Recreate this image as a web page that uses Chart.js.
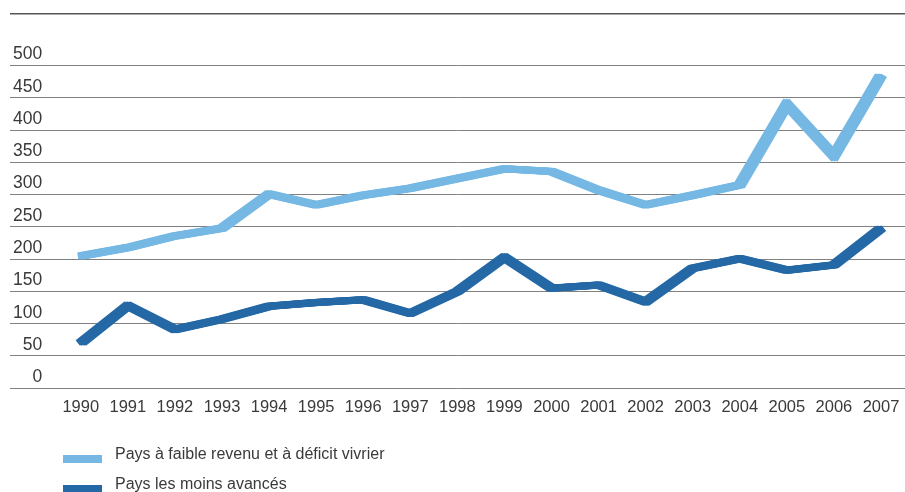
<!DOCTYPE html>
<html>
<head>
<meta charset="utf-8">
<script src="https://cdn.jsdelivr.net/npm/chart.js@4.4.1/dist/chart.umd.min.js"></script>
<style>
  html, body { margin: 0; padding: 0; background: #fff; }
  #wrap { width: 905px; height: 492px; }
</style>
</head>
<body>
<div id="wrap"><canvas id="chart"></canvas></div>
<script>
const years = [1990, 1991, 1992, 1993, 1994, 1995, 1996, 1997, 1998, 1999,
  2000, 2001, 2002, 2003, 2004, 2005, 2006, 2007];
const lowIncomeFoodDeficit = [205, 218, 236, 248, 301, 284, 299, 310, 325, 340,
  336, 307, 284, 299, 315, 440, 360, 485];
const leastDeveloped = [70, 128, 91, 107, 127, 133, 137, 116, 150, 203,
  155, 160, 134, 186, 201, 183, 191, 248];
const yTicks = [0, 50, 100, 150, 200, 250, 300, 350, 400, 450, 500];
const yTop = 580;

const textColor = "#3a3a3a";
const font = "'Liberation Sans', Arial, sans-serif";

// legend drawn as a vertical list under the axis
const stackedLegend = {
  id: "stackedLegend",
  afterDraw(chart) {
    const c = chart.ctx;
    c.save();
    c.font = "16px " + font;
    c.textBaseline = "middle";
    chart.data.datasets.forEach(function (ds, i) {
      const y = 459 + i * 30;
      c.fillStyle = ds.borderColor;
      c.fillRect(63, y - 4, 39, 8);
      c.fillStyle = textColor;
      c.fillText(ds.label, 115, y - 4);
    });
    c.restore();
  },
};

// redraw each line shifted sideways so it looks like a flat pen nib
const nib = {
  id: "nib",
  afterDatasetDraw(chart, args) {
    const c = chart.ctx;
    [-3, -1.5, 1.5, 3].forEach(function (dx) {
      c.save();
      c.translate(dx, 0);
      args.meta.dataset.draw(c, chart.chartArea);
      c.restore();
    });
  },
};

function points(values) {
  return years.map(function (yr, i) {
    return { x: yr, y: values[i] };
  });
}

new Chart(document.getElementById("chart"), {
  type: "line",
  data: {
    datasets: [
      {
        label: "Pays à faible revenu et à déficit vivrier",
        data: points(lowIncomeFoodDeficit),
        borderColor: "#75b8e4",
        borderWidth: 7,
      },
      {
        label: "Pays les moins avancés",
        data: points(leastDeveloped),
        borderColor: "#2468a5",
        borderWidth: 7,
      },
    ],
  },
  options: {
    responsive: true,
    maintainAspectRatio: false,
    animation: false,
    layout: { padding: { left: 10, right: 0, top: 14, bottom: 74 } },
    elements: {
      point: { radius: 0 },
      line: { tension: 0, borderCapStyle: "butt", borderJoinStyle: "miter" },
    },
    plugins: {
      legend: { display: false },
      tooltip: { enabled: false },
    },
    scales: {
      x: {
        type: "linear",
        min: 1988.496,
        max: 2007.51,
        afterBuildTicks: function (axis) {
          axis.ticks = years.map(function (v) { return { value: v }; });
        },
        afterFit: function (axis) {
          axis.paddingLeft = 0;
          axis.paddingRight = 0;
        },
        grid: { display: false },
        border: { display: false },
        ticks: {
          autoSkip: false,
          maxRotation: 0,
          padding: 1,
          color: textColor,
          font: { family: font, size: 16.5 },
          callback: function (v) { return String(v); },
        },
      },
      y: {
        min: 0,
        max: yTop,
        afterBuildTicks: function (axis) {
          axis.ticks = yTicks.concat([yTop]).map(function (v) { return { value: v }; });
        },
        afterFit: function (axis) {
          axis.width = 0;
        },
        border: { display: false },
        grid: {
          drawTicks: false,
          color: function (ctx) { return ctx.tick && ctx.tick.value === yTop ? "#555" : "#808080"; },
          lineWidth: function (ctx) { return ctx.tick && ctx.tick.value === yTop ? 1.5 : 1; },
        },
        ticks: {
          mirror: true,
          crossAlign: "far",
          padding: 3,
          labelOffset: -11,
          color: textColor,
          font: { family: font, size: 17.5 },
          callback: function (v) { return v === yTop ? "" : String(v); },
        },
      },
    },
  },
  plugins: [stackedLegend, nib],
});
</script>
</body>
</html>
